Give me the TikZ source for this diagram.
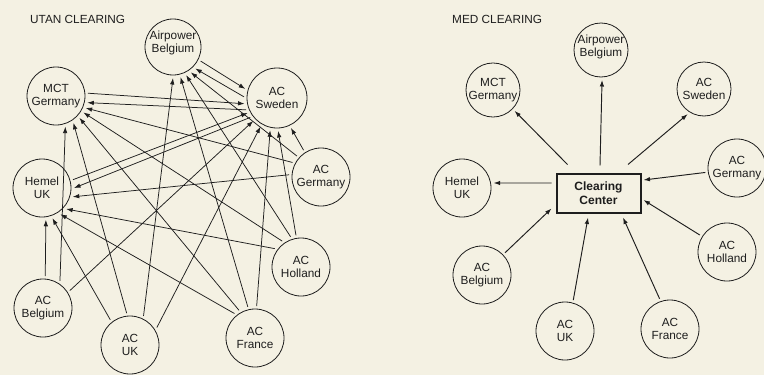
\documentclass[tikz,border=0pt]{standalone}
\usepackage{fontspec}
\setmainfont{Liberation Sans}
\usetikzlibrary{arrows.meta,calc}
\definecolor{paper}{HTML}{F4F1E3}
\definecolor{ink}{HTML}{1E1E1E}
\begin{document}
\begin{tikzpicture}[x=1pt,y=-1pt,
  every node/.style={font=\fontsize{11.8}{13.5}\selectfont, text=ink},
  circ/.style={draw=ink, line width=0.8pt, circle, minimum size=58pt, inner sep=0pt, align=center, outer sep=3pt},
  arr/.style={draw=ink, line width=0.75pt, -{Latex[length=6.5pt,width=4.5pt]}},
  arrb/.style={arr, line width=0.95pt},
  title/.style={anchor=base west, inner sep=0pt}
]
\fill[paper] (0,0) rectangle (764,375);
\useasboundingbox (0,0) rectangle (764,375);

% ---------- UTAN CLEARING ----------
\node[title] (t1) at (30,23) {UTAN CLEARING};
\node[circ, minimum size=56pt, label={[align=center, yshift=4pt]center:Airpower\\Belgium}] (ap) at (173,47) {};
\node[circ, minimum size=60pt] (sw) at (277,98) {AC\\Sweden};
\node[circ] (mct) at (56,96) {MCT\\Germany};
\node[circ] (hem) at (42,188) {Hemel\\UK};
\node[circ] (ger) at (321,177) {AC\\Germany};
\node[circ] (hol) at (301,267) {AC\\Holland};
\node[circ] (bel) at (43,308) {AC\\Belgium};
\node[circ] (uk) at (130,345) {AC\\UK};
\node[circ] (fr) at (255,338) {AC\\France};

\draw[arr] (ap.333) -- (sw.164);
\draw[arr] (sw.178) -- (ap.316);
\draw[arr] (mct.5) -- (sw.190);
\draw[arr] (sw.201) -- (mct.348);
\draw[arr] (hem.15) -- (sw.207);
\draw[arr] (sw.216) -- (hem.0);
\draw[arr] (bel.86) -- (hem.277);
\draw[arr] (bel.58) -- (mct.287);
\draw[arr] (bel.33) -- (sw.224);
\draw[arr] (uk.128) -- (hem.289);
\draw[arr] (uk.96) -- (mct.303);
\draw[arr] (uk.65) -- (ap.270);
\draw[arr] (uk.33) -- (sw.240);
\draw[arr] (fr.130) -- (hem.305);
\draw[arr] (fr.120) -- (mct.317);
\draw[arr] (fr.103) -- (ap.284);
\draw[arr] (fr.87) -- (sw.258);
\draw[arr] (hol.145) -- (hem.319);
\draw[arr] (hol.126) -- (mct.329);
\draw[arr] (hol.109) -- (ap.295);
\draw[arr] (hol.99) -- (sw.272);
\draw[arr] (ger.176) -- (hem.344);
\draw[arr] (ger.153) -- (mct.338);
\draw[arr] (ger.139) -- (ap.305);
\draw[arr] (ger.123) -- (sw.295);

% ---------- MED CLEARING ----------
\node[title] (t2) at (452,23) {MED CLEARING};
\node[draw=ink, line width=2pt, minimum width=84pt, minimum height=39pt, align=center,
      font=\bfseries\fontsize{12}{13.5}\selectfont] (cc) at (598.5,193) {Clearing\\Center};
\node[circ, minimum size=54pt, label={[align=center, yshift=3pt]center:Airpower\\Belgium}] (ap2) at (601,50) {};
\node[circ, minimum size=54pt] (mct2) at (493,90) {MCT\\Germany};
\node[circ, minimum size=54pt] (sw2) at (704,89) {AC\\Sweden};
\node[circ] (ger2) at (737,168) {AC\\Germany};
\node[circ] (hem2) at (462,188) {Hemel\\UK};
\node[circ] (hol2) at (727,252) {AC\\Holland};
\node[circ] (bel2) at (482,275) {AC\\Belgium};
\node[circ] (uk2) at (565,331) {AC\\UK};
\node[circ] (fr2) at (670,329) {AC\\France};

\draw[arrb] ($(cc.west)+(-4,-10)$) -- (hem2.9);
\draw[arrb] ($(cc.north)+(-31,-8)$) -- (mct2.316);
\draw[arrb] ($(cc.north)+(1.5,-7)$) -- (ap2.272);
\draw[arrb] ($(cc.north)+(29.5,-8)$) -- (sw2.237);
\draw[arrb] (ger2.188) -- ($(cc.east)+(2,-13)$);
\draw[arrb] (hol2.148) -- ($(cc.east)+(2,7)$);
\draw[arrb] (fr2.109) -- ($(cc.south)+(24.5,4)$);
\draw[arrb] (uk2.75) -- ($(cc.south)+(-10.5,4)$);
\draw[arrb] (bel2.44) -- ($(cc.south west)+(-4,-5)$);
\end{tikzpicture}
\end{document}
